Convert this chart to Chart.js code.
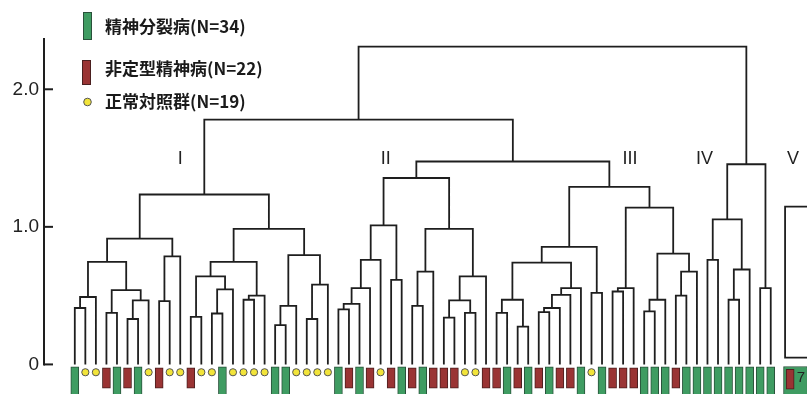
<!DOCTYPE html>
<html><head><meta charset="utf-8">
<script src="https://cdn.jsdelivr.net/npm/chart.js@4"></script>
<style>html,body{margin:0;padding:0;background:#fff}#wrap{width:812px;height:399px;position:relative}canvas{display:block}</style>
</head><body><div id="wrap"><canvas id="c" width="812" height="399"></canvas></div>
<script>
// ---------------- data ----------------
const yTicks = [0, 1, 2];
const groupNames = ['精神分裂病(N=34)', '非定型精神病(N=22)', '正常対照群(N=19)'];
const groupCodes = ['S', 'A', 'N'];
// leaf order, left to right (S = 精神分裂病, A = 非定型精神病, N = 正常対照群)
const leafGroups = [
  'S','N','N','A','S','A','S','N','A','N',
  'N','A','N','N','S','N','N','N','N','S',
  'S','N','N','N','N','S','A','S','A','N',
  'A','S','A','S','A','A','A','N','N','A',
  'A','S','A','S','A','S','A','A','S','N',
  'S','A','A','A','S','S','S','A','S','S',
  'S','S','S','S','S','S','S'
];
// merges: [left, right, height]; numbers are leaves, 'm#' refer to earlier merges
const merges = [
  // cluster I
  [0, 1, 0.41], ['m0', 2, 0.49], [3, 4, 0.375], [5, 6, 0.33], ['m3', 7, 0.465],
  ['m2', 'm4', 0.54], ['m1', 'm5', 0.745], [8, 9, 0.46], ['m7', 10, 0.785], ['m6', 'm8', 0.915],
  [11, 12, 0.345], [13, 14, 0.37], ['m11', 15, 0.545], ['m10', 'm12', 0.64], [16, 17, 0.47],
  ['m14', 18, 0.50], ['m13', 'm15', 0.745], [19, 20, 0.285], ['m17', 21, 0.425], [22, 23, 0.33],
  ['m19', 24, 0.58], ['m18', 'm20', 0.795], ['m16', 'm21', 0.985], ['m9', 'm22', 1.235],
  // cluster II
  [25, 26, 0.40], ['m24', 27, 0.44], ['m25', 28, 0.555], ['m26', 29, 0.76], [30, 31, 0.615],
  ['m27', 'm28', 1.01], [32, 33, 0.425], ['m30', 34, 0.675], [35, 36, 0.34], [37, 38, 0.375],
  ['m32', 'm33', 0.465], ['m34', 39, 0.64], ['m31', 'm35', 0.985], ['m29', 'm36', 1.355],
  // cluster III
  [40, 41, 0.375], [42, 43, 0.275], ['m38', 'm39', 0.47], [44, 45, 0.38], ['m41', 46, 0.41],
  ['m42', 47, 0.505], ['m43', 48, 0.555], ['m40', 'm44', 0.74], [49, 50, 0.52], ['m45', 'm46', 0.855],
  [51, 52, 0.53], ['m48', 53, 0.555], [54, 55, 0.385], ['m50', 56, 0.47], [57, 58, 0.50],
  ['m52', 59, 0.675], ['m51', 'm53', 0.805], ['m49', 'm54', 1.14], ['m47', 'm55', 1.29],
  ['m37', 'm56', 1.475], ['m23', 'm57', 1.78],
  // cluster IV
  [60, 61, 0.76], [62, 63, 0.47], ['m60', 64, 0.69], ['m59', 'm61', 1.055], [65, 66, 0.555],
  ['m62', 'm63', 1.455],
  // root
  ['m58', 'm64', 2.31]
];
const clusterLabels = ['I', 'II', 'III', 'IV', 'V'];
// cluster V (cut off at the right edge): box heights and member summary
const clusterVHeights = [1.147, 0.05];
const clusterVGroup = 'A';
const clusterVCount = '7';

// ---------------- layout / style (not data) ----------------
const X_MIN = -2.9208, X_MAX = 69.439;
const Y_MIN = -0.21505, Y_MAX = 2.3728;
const clusterLabelX = [9.99, 29.49, 52.66, 59.73, 68.11];
const clusterLabelY = 1.49;
const vBoxX = 67.36, vLeafX = 67.84, vBgX = 68.35, vCountX = 68.87;
const colors = { S: '#3f9c62', A: '#9a3434', N: '#f2e43a' };
const borders = { S: '#29513a', A: '#4a1f1f', N: '#555' };
const INK = '#1e1e1e';

// ---------------- build ----------------
function buildTree() {
  const pos = [], hgt = [];
  const nx = id => typeof id === 'number' ? id : pos[+id.slice(1)];
  const nh = id => typeof id === 'number' ? 0 : hgt[+id.slice(1)];
  const pts = [];
  merges.forEach(([a, b, h], k) => {
    const xa = nx(a), xb = nx(b), ha = nh(a), hb = nh(b);
    pts.push({x: xa, y: ha}, {x: xa, y: h}, {x: xb, y: h}, {x: xb, y: hb}, {x: xb, y: null});
    pos[k] = (xa + xb) / 2; hgt[k] = h;
  });
  return pts;
}
const treePts = buildTree();
const vBoxPts = [
  {x: X_MAX + 1, y: clusterVHeights[0]}, {x: vBoxX, y: clusterVHeights[0]},
  {x: vBoxX, y: clusterVHeights[1]}, {x: X_MAX + 1, y: clusterVHeights[1]}
];
const sBars = [], aBars = [], nPts = [];
leafGroups.forEach((g, i) => {
  if (g === 'S') sBars.push({x: i, y: [-0.3, -0.018]});
  else if (g === 'A') aBars.push({x: i, y: [-0.172, -0.025]});
  else nPts.push({x: i, y: -0.057});
});

const deco = {
  id: 'deco',
  afterDatasetsDraw(chart) {
    const {ctx, chartArea, scales: {x, y}} = chart;
    ctx.save();
    ctx.strokeStyle = INK; ctx.lineWidth = 2;
    const ax = chartArea.left;
    ctx.beginPath(); ctx.moveTo(ax, y.getPixelForValue(0) + 1); ctx.lineTo(ax, chartArea.top); ctx.stroke();
    yTicks.forEach(v => {
      const py = y.getPixelForValue(v);
      ctx.beginPath(); ctx.moveTo(ax, py); ctx.lineTo(ax + 9, py); ctx.stroke();
    });
    // cluster labels
    ctx.fillStyle = '#222'; ctx.font = '18px "Liberation Sans", Arial, sans-serif';
    ctx.textAlign = 'center'; ctx.textBaseline = 'middle';
    clusterLabels.forEach((t, i) => ctx.fillText(t, x.getPixelForValue(clusterLabelX[i]), y.getPixelForValue(clusterLabelY)));
    // V count
    ctx.font = '15px "Liberation Sans", Arial, sans-serif';
    ctx.fillStyle = '#222';
    ctx.fillText(clusterVCount, x.getPixelForValue(vCountX), y.getPixelForValue(-0.1));
    // legend
    const rows = [27, 69, 102];
    ctx.lineWidth = 1;
    groupCodes.forEach((g, i) => {
      const cy = rows[i];
      ctx.fillStyle = colors[g]; ctx.strokeStyle = borders[g];
      if (g === 'S') { ctx.fillRect(83, 12, 9, 28); ctx.strokeRect(83.5, 12.5, 8, 27); }
      else if (g === 'A') { ctx.fillRect(82, 60, 9, 25); ctx.strokeRect(82.5, 60.5, 8, 24); }
      else { ctx.beginPath(); ctx.arc(87.5, cy, 3.8, 0, Math.PI * 2); ctx.fill(); ctx.stroke(); }
      ctx.fillStyle = '#1a1a1a'; ctx.textAlign = 'left';
      ctx.font = 'bold 17px "Noto Sans CJK JP", sans-serif';
      ctx.fillText(groupNames[i], 105, cy);
    });
    ctx.restore();
  }
};

new Chart(document.getElementById('c'), {
  type: 'line',
  data: {
    datasets: [
      { type: 'line', data: treePts, borderColor: INK, borderWidth: 1.8, pointRadius: 0, fill: false, tension: 0, spanGaps: false, borderJoinStyle: 'miter' },
      { type: 'line', data: vBoxPts, borderColor: INK, borderWidth: 1.8, pointRadius: 0, fill: false, tension: 0 },
      { type: 'bar', data: [{x: vBgX, y: [-0.3, -0.015]}], backgroundColor: colors.S, borderColor: borders.S, borderWidth: 1, borderSkipped: false, barThickness: 24, grouped: false, order: 5 },
      { type: 'bar', data: sBars, backgroundColor: colors.S, borderColor: borders.S, borderWidth: 1, borderSkipped: false, barThickness: 8, grouped: false },
      { type: 'bar', data: aBars.concat([{x: vLeafX, y: [-0.18, -0.035]}]), backgroundColor: colors.A, borderColor: borders.A, borderWidth: 1, borderSkipped: false, barThickness: 8, grouped: false },
      { type: 'line', data: nPts, showLine: false, pointRadius: 3.6, pointBackgroundColor: colors.N, pointBorderColor: borders.N, pointBorderWidth: 1 }
    ]
  },
  options: {
    responsive: false, animation: false, devicePixelRatio: 1,
    layout: { padding: { top: 38, left: 0, right: 0, bottom: 0 } },
    plugins: { legend: { display: false }, tooltip: { enabled: false } },
    events: [],
    scales: {
      x: { type: 'linear', min: X_MIN, max: X_MAX, display: false, offset: false },
      y: {
        type: 'linear', min: Y_MIN, max: Y_MAX,
        afterBuildTicks: s => { s.ticks = yTicks.map(v => ({value: v})); },
        afterFit: s => { s.width = 44; s.paddingTop = 0; s.paddingBottom = 0; },
        grid: { display: false, drawTicks: false }, border: { display: false },
        ticks: { padding: 5, color: '#222', font: { family: '"Liberation Sans", Arial, sans-serif', size: 19 },
                 callback: v => v === 0 ? '0' : v.toFixed(1) }
      }
    }
  },
  plugins: [deco]
});
</script></body></html>
